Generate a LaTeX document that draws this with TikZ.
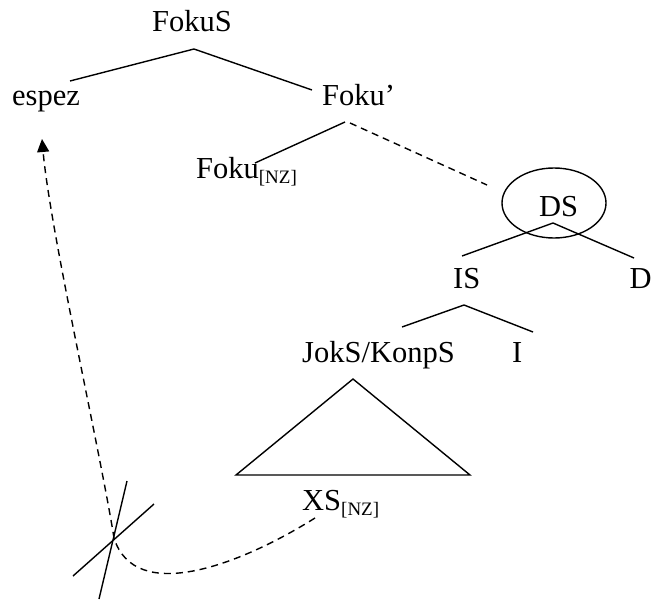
\documentclass[tikz,border=0pt]{standalone}
\usepackage{fontspec}
\setmainfont{Liberation Serif}
\usetikzlibrary{arrows.meta,shapes.geometric}
\tikzset{
  lbl/.style={anchor=base west,inner sep=0pt,font=\fontsize{30.5}{35}\selectfont},
  branch/.style={line width=1.4pt},
  dsh/.style={line width=1.4pt,dash pattern=on 7pt off 5pt},
}
\newcommand{\nzsub}{\raisebox{-5pt}{\fontsize{19}{21}\selectfont[NZ]}}
\begin{document}
\begin{tikzpicture}[x=1pt,y=-1pt]
\useasboundingbox (0,0) rectangle (652,602);
% labels
\node[lbl] (fokus) at (152,32) {FokuS};
\node[lbl] (espez) at (12,105) {espez};
\node[lbl] (fokubar) at (322,105) {Foku’};
\node[lbl] (fokunz) at (196,178) {Foku\nzsub};
\node[lbl] (ds) at (539,216) {DS};
\node[lbl] (is) at (453,288) {IS};
\node[lbl] (d) at (629.5,288) {D};
\node[lbl] (jok) at (302,362) {JokS/KonpS};
\node[lbl] (i) at (512,362) {I};
\node[lbl] (xs) at (302,510) {XS\nzsub};
\node[draw,ellipse,line width=1.4pt,minimum width=104pt,minimum height=70pt,inner sep=0pt] (dsellipse) at (554,203) {};
% coordinates
\coordinate (aF) at (194,49);
\coordinate (aFl) at (70,81);
\coordinate (aFr) at (312,90);
\coordinate (aB) at (345,122);
\coordinate (aBl) at (255,163);
\coordinate (aBd) at (350,123);
\coordinate (aBr) at (487,185);
\coordinate (aD) at (553,223);
\coordinate (aDl) at (462,256);
\coordinate (aDr) at (634,258);
\coordinate (aI) at (464,305);
\coordinate (aIl) at (402,327);
\coordinate (aIr) at (533,332);
\coordinate (tA) at (353,379);
\coordinate (tL) at (236,475);
\coordinate (tR) at (470,475);
\coordinate (mvS) at (315,518);
\coordinate (mvX) at (114,538);
\coordinate (mvT) at (42,139);
\coordinate (x1a) at (127,481);
\coordinate (x1b) at (99,599);
\coordinate (x2a) at (154,504);
\coordinate (x2b) at (73,576);
% tree
\draw[branch] (aFl) -- (aF) -- (aFr);
\draw[branch] (aB) -- (aBl);
\draw[dsh] (aBd) -- (aBr);
\draw[branch] (aDl) -- (aD) -- (aDr);
\draw[branch] (aIl) -- (aI) -- (aIr);
\draw[branch,line join=miter] (tA) -- (tL) -- (tR) -- cycle;
% movement
\draw[dsh,-{Triangle[length=13pt,width=12pt]}] (mvS) .. controls (240,565) and (135,605) .. (mvX) .. controls (100,450) and (50,230) .. (mvT);
\draw[branch] (x1a) -- (x1b);
\draw[branch] (x2a) -- (x2b);
\end{tikzpicture}
\end{document}
